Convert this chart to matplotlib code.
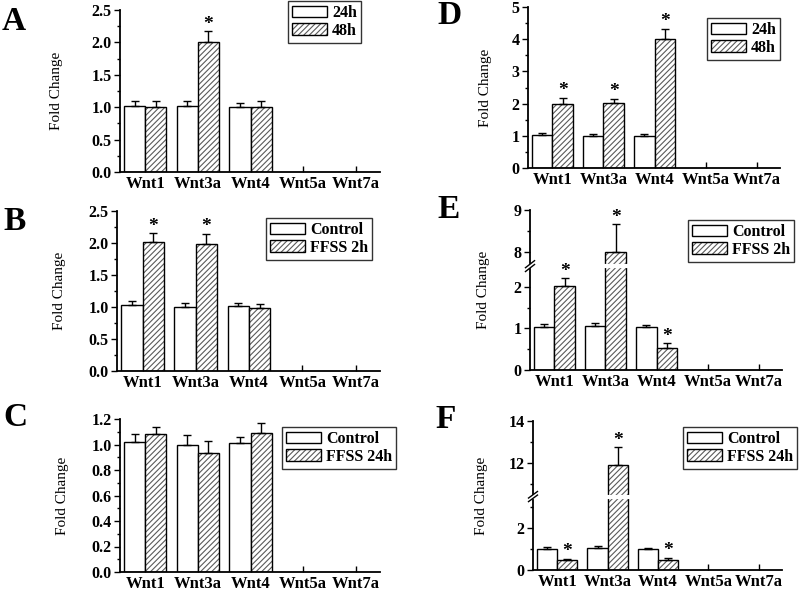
import numpy as np
import matplotlib
matplotlib.use('Agg')
import matplotlib.pyplot as plt
import matplotlib.transforms as mtransforms
from matplotlib.patches import Patch
from matplotlib.legend_handler import HandlerTuple

plt.rcParams['font.family'] = ['Liberation Serif', 'DejaVu Serif']
plt.rcParams['hatch.linewidth'] = 0.8

# datos
genes = ['Wnt1', 'Wnt3a', 'Wnt4', 'Wnt5a', 'Wnt7a']

a_24h = [1.02, 1.02, 1.01]
a_24h_err = [0.07, 0.07, 0.05]
a_48h = [1.01, 2.00, 1.00]
a_48h_err = [0.08, 0.17, 0.09]
a_star = [False, True, False]

b_ctrl = [1.03, 1.00, 1.01]
b_ctrl_err = [0.06, 0.07, 0.05]
b_ffss = [2.02, 1.98, 0.98]
b_ffss_err = [0.13, 0.16, 0.06]
b_star = [True, True, False]

c_ctrl = [1.02, 1.00, 1.01]
c_ctrl_err = [0.065, 0.075, 0.05]
c_ffss = [1.08, 0.935, 1.09]
c_ffss_err = [0.06, 0.09, 0.076]
c_star = [False, False, False]

d_24h = [1.03, 1.00, 0.99]
d_24h_err = [0.07, 0.07, 0.07]
d_48h = [1.99, 2.01, 4.02]
d_48h_err = [0.19, 0.14, 0.30]
d_star = [True, True, True]

e_ctrl = [1.03, 1.05, 1.03]
e_ctrl_err = [0.065, 0.07, 0.05]
e_ffss = [2.02, 8.00, 0.52]
e_ffss_err = [0.19, 0.66, 0.12]
e_star = [True, True, True]

f_ctrl = [1.01, 1.07, 1.02]
f_ctrl_err = [0.08, 0.05, 0.03]
f_ffss = [0.50, 11.90, 0.50]
f_ffss_err = [0.03, 0.85, 0.09]
f_star = [True, True, True]

W, H = 800, 591
fig = plt.figure(figsize=(W / 100, H / 100), dpi=100)
fig.patch.set_facecolor('white')

HATCH_COLOR = '#5a5a5a'


def ejes_px(left, right, top, bottom):
    return fig.add_axes([left / W, 1 - bottom / H, (right - left) / W, (bottom - top) / H])


def escala_corte(lo, hi):
    gap = hi - lo

    def fwd(v):
        v = np.asarray(v, dtype=float)
        return np.where(v <= lo, v, np.where(v >= hi, v - gap, lo + (v - lo) * 1e-6))

    def inv(d):
        d = np.asarray(d, dtype=float)
        return np.where(d <= lo, d, d + gap)
    return fwd, inv


def panel(box, letra, letra_xy, ylab_x, s1, e1, s2, e2, stars, nombres, ley_xy,
          ylim, major, minor, fmt, corte=None):
    ax = ejes_px(*box)
    if corte is not None:
        fwd, inv = escala_corte(*corte)
        ax.set_yscale('function', functions=(fwd, inv))
    x = np.arange(len(s1))
    w = 0.4
    ax.bar(x - w / 2, s1, w, color='white', edgecolor='black', lw=1.0, zorder=2)
    ax.bar(x + w / 2, s2, w, color='white', edgecolor=HATCH_COLOR, lw=0, hatch='//////', zorder=2)
    ax.bar(x + w / 2, s2, w, fill=False, edgecolor='black', lw=1.0, zorder=3)
    z = np.zeros(len(s1))
    ax.errorbar(x - w / 2, s1, yerr=[z, e1], fmt='none', ecolor='black', elinewidth=1.0,
                capsize=3, capthick=1.0, zorder=4)
    ax.errorbar(x + w / 2, s2, yerr=[z, e2], fmt='none', ecolor='black', elinewidth=1.0,
                capsize=3, capthick=1.0, zorder=4)
    for xi, yi, ei, st in zip(x, s2, e2, stars):
        if st:
            ax.annotate('*', (xi + w / 2, yi + ei), xytext=(0, -1), textcoords='offset points',
                        ha='center', va='bottom', fontsize=14, fontweight='bold', zorder=9)

    ax.set_xlim(-0.48, 4.46)
    ax.set_ylim(*ylim)
    ax.set_xticks(np.arange(len(genes)))
    ax.set_xticklabels(genes, fontsize=12, fontweight='bold')
    ax.set_yticks(major)
    ax.set_yticks(minor, minor=True)
    ax.set_yticklabels([fmt % v for v in major], fontsize=11.5, fontweight='bold')
    ax.tick_params(axis='x', direction='in', length=4, width=1.0, pad=3)
    ax.tick_params(axis='y', which='major', direction='out', length=4, width=1.0, pad=2)
    ax.tick_params(axis='y', which='minor', direction='out', length=2.5, width=1.0)
    for s in ['top', 'right']:
        ax.spines[s].set_visible(False)
    for s in ['left', 'bottom']:
        ax.spines[s].set_linewidth(1.3)
    ax.set_facecolor('none')

    tr = mtransforms.blended_transform_factory(fig.transFigure, ax.transAxes)
    ax.set_ylabel('Fold Change', fontsize=11)
    ax.yaxis.set_label_coords(ylab_x / W, 0.5, transform=tr)

    if corte is not None:
        lo, hi = corte
        # hueco blanco en el eje y en las barras que cruzan el corte
        ax.plot([-0.02, 0.02], [lo, lo], transform=mtransforms.blended_transform_factory(ax.transAxes, ax.transData),
                color='white', lw=3, zorder=6, clip_on=False)
        for xi, yi in zip(x, s2):
            if yi > hi:
                ax.plot([xi + w / 2 - w * 0.6, xi + w / 2 + w * 0.6], [lo, lo], color='white', lw=3, zorder=6)
        top_d = float(fwd(ylim[1]))
        yf = (lo - ylim[0]) / (top_d - ylim[0])
        for dy in (-0.012, 0.012):
            ax.plot([-0.018, 0.018], [yf + dy - 0.022, yf + dy + 0.022], transform=ax.transAxes,
                    color='black', lw=1.0, clip_on=False, zorder=7)

    fig.text(letra_xy[0] / W, 1 - letra_xy[1] / H, letra, fontsize=24, fontweight='bold',
             ha='left', va='center')

    h_blanco = Patch(facecolor='white', edgecolor='black', lw=1.0)
    h_rayas = (Patch(facecolor='white', edgecolor=HATCH_COLOR, lw=0, hatch='//////'),
               Patch(fill=False, edgecolor='black', lw=1.0))
    leg = ax.legend([h_blanco, h_rayas], nombres, loc='upper left',
                    bbox_to_anchor=(ley_xy[0] / W, 1 - ley_xy[1] / H),
                    bbox_transform=fig.transFigure, handler_map={tuple: HandlerTuple(ndivide=1)},
                    prop={'weight': 'bold', 'size': 11.5}, fancybox=False, framealpha=1,
                    edgecolor='#333333', handlelength=2.2, handleheight=0.75,
                    handletextpad=0.3, borderpad=0.25, labelspacing=0.12, borderaxespad=0)
    leg.get_frame().set_linewidth(1.0)
    return ax


panel((120, 380, 10, 172), 'A', (2, 21), 63, a_24h, a_24h_err, a_48h, a_48h_err, a_star,
      ['24h', '48h'], (288, 1), (0, 2.5), np.arange(0, 2.51, 0.5), np.arange(0.25, 2.5, 0.5), '%.1f')
panel((117, 380, 211, 371), 'B', (3, 221), 66, b_ctrl, b_ctrl_err, b_ffss, b_ffss_err, b_star,
      ['Control', 'FFSS 2h'], (266, 218), (0, 2.5), np.arange(0, 2.51, 0.5), np.arange(0.25, 2.5, 0.5), '%.1f')
panel((120, 380, 419, 572), 'C', (3, 418), 69, c_ctrl, c_ctrl_err, c_ffss, c_ffss_err, c_star,
      ['Control', 'FFSS 24h'], (282, 427), (0, 1.2), np.arange(0, 1.21, 0.2), np.arange(0.1, 1.2, 0.2), '%.1f')
panel((528, 780, 7, 168), 'D', (437, 16), 492, d_24h, d_24h_err, d_48h, d_48h_err, d_star,
      ['24h', '48h'], (707, 18), (0, 5), np.arange(0, 6), np.arange(0.5, 5, 1.0), '%d')
panel((530, 782, 210, 370), 'E', (437, 210), 490, e_ctrl, e_ctrl_err, e_ffss, e_ffss_err, e_star,
      ['Control', 'FFSS 2h'], (688, 220), (0, 9), [0, 1, 2, 8, 9], [0.5, 1.5, 8.5], '%d',
      corte=(2.5, 7.65))
panel((533, 782, 421, 570), 'F', (435, 420), 488, f_ctrl, f_ctrl_err, f_ffss, f_ffss_err, f_star,
      ['Control', 'FFSS 24h'], (683, 427), (0, 14), [0, 2, 12, 14], [1, 3, 11, 13], '%d',
      corte=(3.5, 10.4))

fig.savefig('out.png', dpi=100, facecolor='white')
